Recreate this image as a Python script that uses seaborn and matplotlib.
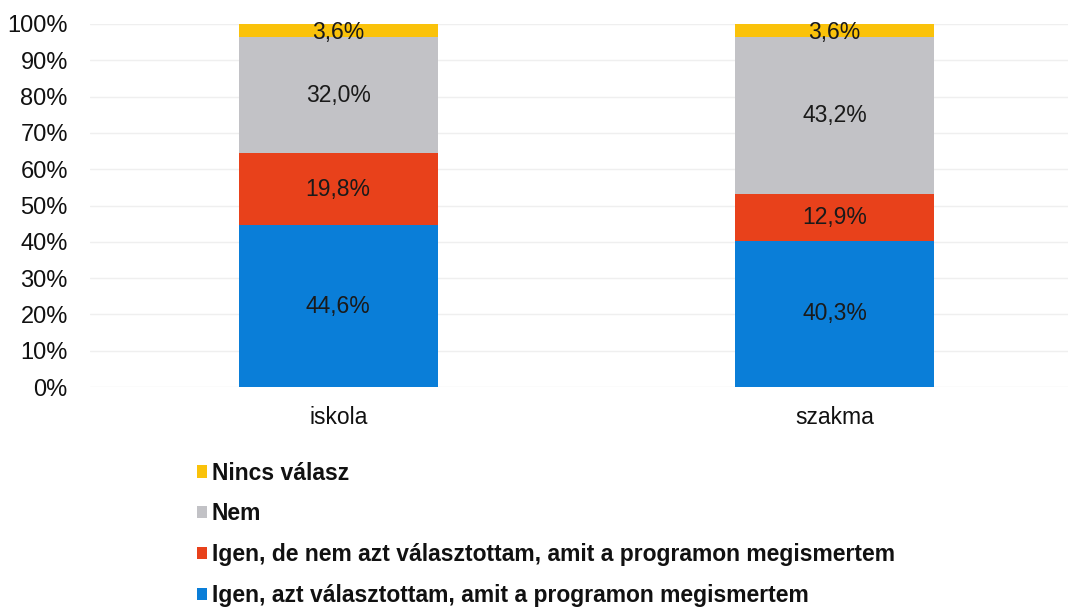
import numpy as np
import pandas as pd
import matplotlib
matplotlib.use("Agg")
import matplotlib.pyplot as plt
from matplotlib.patches import Patch
import seaborn as sns

# data (percent)
categories = ["iskola", "szakma"]
series_names = [
    "Igen, azt választottam, amit a programon megismertem",
    "Igen, de nem azt választottam, amit a programon megismertem",
    "Nem",
    "Nincs válasz",
]
igen_azt = [44.6, 40.3]
igen_nem_azt = [19.8, 12.9]
nem = [32.0, 43.2]
nincs_valasz = [3.6, 3.6]
y_ticks = [0, 10, 20, 30, 40, 50, 60, 70, 80, 90, 100]

colors = ["#0A7ED8", "#E8411B", "#C2C2C6", "#FAC20A"]

sns.set_theme(style="white")
plt.rcParams["font.family"] = ["Liberation Sans", "DejaVu Sans"]

values = [igen_azt, igen_nem_azt, nem, nincs_valasz]
cum = np.cumsum(np.array(values), axis=0)

fig = plt.figure(figsize=(10.68, 6.07), dpi=100)
ax = fig.add_axes([90 / 1068, 1 - 387 / 607, (1068 - 90) / 1068, (387 - 24) / 607])

# stacked bars: draw cumulative totals from top to bottom so each covers the next
for i in reversed(range(len(values))):
    df = pd.DataFrame({"cat": categories, "val": cum[i]})
    sns.barplot(data=df, x="cat", y="val", color=colors[i], width=0.4,
                saturation=1, linewidth=0, ax=ax, zorder=2)

# segment labels
for i in range(len(values)):
    for j, cat in enumerate(categories):
        v = values[i][j]
        mid = cum[i][j] - v / 2
        if i == 3:
            mid = cum[i][j] - v / 2 - 0.5
        ax.text(j, mid, f"{v:.1f}".replace(".", ",") + "%", ha="center",
                va="center", fontsize=16.5, color="#1a1a1a", zorder=3)

ax.set_ylim(0, 100)
ax.set_xlim(-0.5, 1.47)
ax.set_yticks(y_ticks)
ax.set_yticklabels([f"{t}%" for t in y_ticks])
ax.yaxis.grid(True, color="#efefef", linewidth=1, zorder=0)
ax.set_axisbelow(True)
ax.tick_params(axis="y", length=0, pad=16, labelsize=17, colors="#111111")
ax.tick_params(axis="x", length=0, pad=14, labelsize=16.5, colors="#111111")
ax.set_xlabel("")
ax.set_ylabel("")
for spine in ax.spines.values():
    spine.set_visible(False)

handles = [Patch(facecolor=colors[i], edgecolor="none") for i in reversed(range(4))]
labels = list(reversed(series_names))
leg = fig.legend(handles, labels, loc="upper left",
                 bbox_to_anchor=(176 / 1068, 1 - 441 / 607),
                 frameon=False, handlelength=0.45, handleheight=0.45,
                 handletextpad=0.2, labelspacing=0.78,
                 prop={"weight": "bold", "size": 16.5})
for t in leg.get_texts():
    t.set_color("#111111")

fig.savefig("out.png", dpi=100)
